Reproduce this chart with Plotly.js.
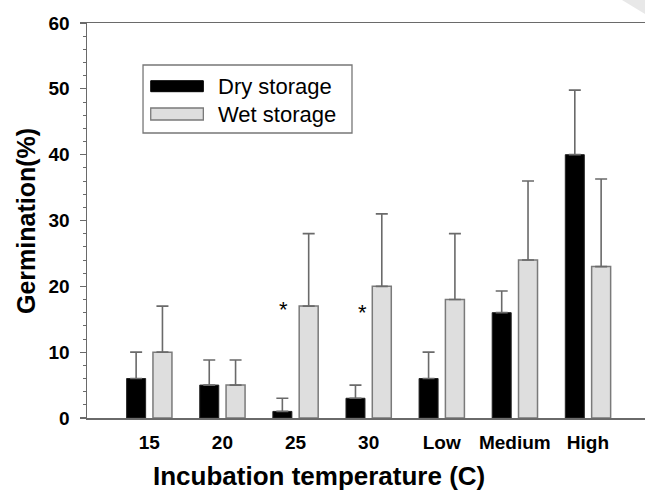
<!DOCTYPE html>
<html>
<head>
<meta charset="utf-8">
<script src="https://cdn.plot.ly/plotly-3.0.1.min.js"></script>
<style>html,body{margin:0;padding:0;background:#fff;}#chart{width:645px;height:491px;}</style>
</head>
<body>
<div id="chart"></div>
<script>
const categories = ['15', '20', '25', '30', 'Low', 'Medium', 'High'];
const dryValues = [6, 5, 1, 3, 6, 16, 40];
const dryErrors = [4, 3.8, 2, 2, 4, 3.3, 9.8];
const wetValues = [10, 5, 17, 20, 18, 24, 23];
const wetErrors = [7, 3.8, 11, 11, 10, 12, 13.3];
const seriesNames = ['Dry storage', 'Wet storage'];
const sigCategories = ['25', '30'];
const sigY = [16.5, 16.1];
const xTitle = 'Incubation temperature (C)';
const yTitle = 'Germination(%)';

const sigShift = [-12, -6];
const FONT = '"Liberation Sans", Arial, sans-serif';
const zeros = categories.map(() => 0);

const traces = [
  {
    type: 'bar', name: seriesNames[0], x: categories, y: dryValues,
    marker: {color: '#000000', line: {color: '#222222', width: 1}},
    error_y: {type: 'data', symmetric: false, array: dryErrors, arrayminus: zeros,
              color: '#6a6a6a', thickness: 1.6, width: 6},
    showlegend: false
  },
  {
    type: 'bar', name: seriesNames[1], x: categories, y: wetValues,
    marker: {color: '#dedede', line: {color: '#7a7a7a', width: 1.5}},
    error_y: {type: 'data', symmetric: false, array: wetErrors, arrayminus: zeros,
              color: '#6a6a6a', thickness: 1.6, width: 6},
    showlegend: false
  }
];

const annotations = sigCategories.map((c, i) => ({
  x: categories.indexOf(c), y: sigY[i], xref: 'x', yref: 'y', text: '*', showarrow: false,
  xshift: sigShift[i], font: {family: FONT, size: 22, color: '#000'}
}));
annotations.push(
  {x: 0.2312, y: 0.8405, xref: 'paper', yref: 'paper', xanchor: 'left', yanchor: 'middle',
   text: seriesNames[0], showarrow: false, font: {family: FONT, size: 22, color: '#000'}},
  {x: 0.2312, y: 0.7696, xref: 'paper', yref: 'paper', xanchor: 'left', yanchor: 'middle',
   text: seriesNames[1], showarrow: false, font: {family: FONT, size: 22, color: '#000'}},
  {x: 0.4158, y: -0.1468, xref: 'paper', yref: 'paper', xanchor: 'center', yanchor: 'middle',
   text: xTitle, showarrow: false, font: {family: FONT, size: 26, color: '#000', weight: 'bold'}},
  {x: -0.1093, y: 0.4987, xref: 'paper', yref: 'paper', xanchor: 'center', yanchor: 'middle',
   textangle: -90, text: yTitle, showarrow: false,
   font: {family: FONT, size: 25, color: '#000', weight: 'bold'}}
);

const shapes = [
  {type: 'rect', xref: 'paper', yref: 'paper', x0: 0.1004, x1: 0.4749, y0: 0.7215, y1: 0.8937,
   line: {color: '#777', width: 1.3}, fillcolor: 'rgba(0,0,0,0)'},
  {type: 'rect', xref: 'paper', yref: 'paper', x0: 0.1142, x1: 0.2085, y0: 0.8261, y1: 0.8539,
   line: {color: '#000', width: 1}, fillcolor: '#000'},
  {type: 'rect', xref: 'paper', yref: 'paper', x0: 0.1142, x1: 0.2085, y0: 0.7544, y1: 0.7848,
   line: {color: '#7a7a7a', width: 1.3}, fillcolor: '#dedede'},
  {type: 'path', xref: 'paper', yref: 'paper', path: 'M 0.9588 1.0582 L 1 1.0582 L 1 1.0228 Z',
   line: {width: 0}, fillcolor: '#e8e8e8'}
];

const layout = {
  width: 645, height: 491,
  margin: {l: 87, r: 0, t: 23, b: 73, pad: 0},
  paper_bgcolor: '#fff', plot_bgcolor: '#fff',
  barmode: 'group', bargap: 0.28, bargroupgap: 0.278,
  showlegend: false,
  font: {family: FONT, color: '#000'},
  xaxis: {
    type: 'category', range: [-0.852, 6.78],
    showline: true, linecolor: '#6a6a6a', linewidth: 1.5, mirror: true,
    ticks: '', showgrid: false, zeroline: false,
    tickfont: {family: FONT, size: 19, color: '#000', weight: 'bold'},
    ticklabelstandoff: 7
  },
  yaxis: {
    range: [0, 60], tickvals: [0, 10, 20, 30, 40, 50, 60],
    showline: true, linecolor: '#6a6a6a', linewidth: 1.5, mirror: false,
    ticks: 'outside', ticklen: 6, tickcolor: '#6a6a6a', tickwidth: 1.2,
    minor: {dtick: 2, ticks: 'outside', ticklen: 3, tickcolor: '#6a6a6a', tickwidth: 1},
    showgrid: false, zeroline: false,
    tickfont: {family: FONT, size: 19, color: '#000', weight: 'bold'},
    ticklabelstandoff: 6
  },
  annotations: annotations,
  shapes: shapes
};

Plotly.newPlot('chart', traces, layout, {displayModeBar: false, staticPlot: true});
</script>
</body>
</html>
